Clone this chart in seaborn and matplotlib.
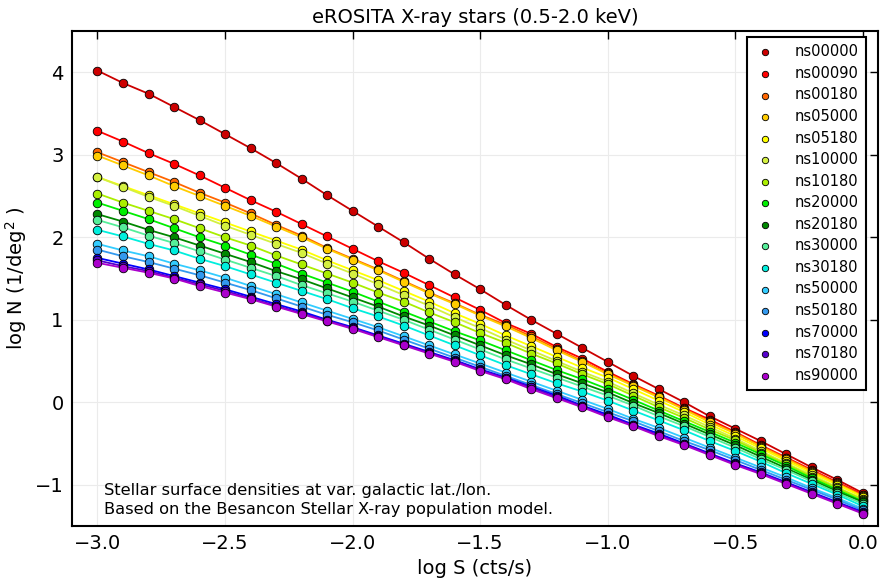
import numpy as np
import pandas as pd
import matplotlib
matplotlib.use("Agg")
import matplotlib.pyplot as plt
import seaborn as sns

# log S grid (cts/s)
log_s = [round(-3.0 + 0.1 * i, 1) for i in range(31)]

names = ["ns00000", "ns00090", "ns00180", "ns05000", "ns05180", "ns10000",
         "ns10180", "ns20000", "ns20180", "ns30000", "ns30180", "ns50000",
         "ns50180", "ns70000", "ns70180", "ns90000"]

colors = ["#cc0000", "#ff0000", "#ff6600", "#ffcc00", "#ffff00", "#d4f040",
          "#aaee00", "#00ee00", "#008800", "#55ee99", "#00eedd", "#33ccff",
          "#3399ee", "#0000ff", "#5500cc", "#aa00cc"]

# log N (1/deg^2)
ns00000 = [4.02, 3.87, 3.74, 3.58, 3.42, 3.25, 3.08, 2.90, 2.71, 2.51, 2.32, 2.13, 1.94, 1.74, 1.55, 1.37,
           1.18, 1.00, 0.83, 0.66, 0.49, 0.32, 0.16, 0.00, -0.17, -0.32, -0.47, -0.63, -0.79, -0.94, -1.10]
ns00090 = [3.29, 3.16, 3.02, 2.89, 2.75, 2.60, 2.45, 2.31, 2.16, 2.01, 1.86, 1.71, 1.57, 1.42, 1.27, 1.12,
           0.96, 0.83, 0.67, 0.53, 0.37, 0.22, 0.08, -0.07, -0.21, -0.36, -0.52, -0.67, -0.82, -0.97, -1.12]
ns00180 = [3.03, 2.91, 2.79, 2.67, 2.54, 2.42, 2.29, 2.15, 2.02, 1.87, 1.74, 1.61, 1.47, 1.33, 1.20, 1.06,
           0.94, 0.80, 0.65, 0.50, 0.35, 0.21, 0.07, -0.08, -0.23, -0.37, -0.53, -0.68, -0.83, -0.98, -1.13]
ns05000 = [2.99, 2.87, 2.75, 2.62, 2.50, 2.38, 2.26, 2.13, 2.00, 1.86, 1.73, 1.60, 1.46, 1.32, 1.19, 1.05,
           0.92, 0.78, 0.63, 0.49, 0.34, 0.20, 0.06, -0.09, -0.24, -0.38, -0.54, -0.69, -0.84, -0.99, -1.14]
ns05180 = [2.73, 2.62, 2.51, 2.40, 2.29, 2.18, 2.07, 1.96, 1.85, 1.72, 1.60, 1.48, 1.35, 1.22, 1.08, 0.95,
           0.81, 0.68, 0.55, 0.42, 0.30, 0.16, 0.02, -0.12, -0.27, -0.41, -0.56, -0.71, -0.86, -1.00, -1.15]
ns10000 = [2.73, 2.61, 2.49, 2.38, 2.26, 2.14, 2.03, 1.92, 1.81, 1.68, 1.56, 1.43, 1.30, 1.17, 1.03, 0.90,
           0.76, 0.63, 0.50, 0.37, 0.25, 0.11, -0.03, -0.16, -0.30, -0.44, -0.59, -0.74, -0.88, -1.03, -1.17]
ns10180 = [2.53, 2.42, 2.32, 2.22, 2.11, 2.00, 1.90, 1.78, 1.67, 1.56, 1.45, 1.33, 1.22, 1.09, 0.97, 0.84,
           0.72, 0.59, 0.47, 0.34, 0.22, 0.08, -0.06, -0.19, -0.33, -0.46, -0.61, -0.75, -0.90, -1.04, -1.18]
ns20000 = [2.42, 2.32, 2.22, 2.11, 2.00, 1.90, 1.79, 1.68, 1.56, 1.45, 1.34, 1.22, 1.10, 0.98, 0.86, 0.75,
           0.63, 0.51, 0.39, 0.28, 0.16, 0.03, -0.10, -0.23, -0.36, -0.49, -0.63, -0.77, -0.92, -1.06, -1.20]
ns20180 = [2.28, 2.19, 2.09, 2.00, 1.90, 1.80, 1.70, 1.59, 1.49, 1.38, 1.27, 1.16, 1.04, 0.93, 0.81, 0.69,
           0.57, 0.46, 0.34, 0.23, 0.12, -0.01, -0.13, -0.26, -0.39, -0.52, -0.66, -0.80, -0.94, -1.08, -1.21]
ns30000 = [2.21, 2.12, 2.02, 1.93, 1.83, 1.73, 1.63, 1.53, 1.42, 1.32, 1.22, 1.11, 1.00, 0.88, 0.76, 0.64,
           0.52, 0.41, 0.30, 0.19, 0.08, -0.04, -0.17, -0.29, -0.42, -0.55, -0.69, -0.82, -0.96, -1.10, -1.23]
ns30180 = [2.09, 2.01, 1.92, 1.84, 1.74, 1.65, 1.55, 1.45, 1.35, 1.25, 1.14, 1.04, 0.93, 0.81, 0.69, 0.57,
           0.45, 0.34, 0.23, 0.13, 0.02, -0.10, -0.22, -0.34, -0.47, -0.59, -0.72, -0.86, -0.99, -1.12, -1.26]
ns50000 = [1.92, 1.84, 1.77, 1.68, 1.60, 1.51, 1.41, 1.31, 1.21, 1.11, 1.01, 0.91, 0.80, 0.69, 0.58, 0.47,
           0.36, 0.25, 0.14, 0.03, -0.08, -0.20, -0.31, -0.43, -0.55, -0.67, -0.79, -0.91, -1.04, -1.16, -1.29]
ns50180 = [1.85, 1.77, 1.70, 1.62, 1.54, 1.45, 1.36, 1.26, 1.16, 1.06, 0.97, 0.87, 0.76, 0.65, 0.54, 0.43,
           0.32, 0.21, 0.10, -0.01, -0.12, -0.23, -0.35, -0.47, -0.58, -0.70, -0.82, -0.94, -1.06, -1.18, -1.31]
ns70000 = [1.75, 1.68, 1.61, 1.53, 1.45, 1.37, 1.28, 1.19, 1.10, 1.00, 0.91, 0.81, 0.71, 0.61, 0.51, 0.40,
           0.30, 0.19, 0.08, -0.04, -0.15, -0.27, -0.38, -0.50, -0.62, -0.74, -0.85, -0.97, -1.09, -1.21, -1.33]
ns70180 = [1.72, 1.65, 1.59, 1.51, 1.43, 1.35, 1.26, 1.17, 1.08, 0.99, 0.90, 0.80, 0.70, 0.60, 0.50, 0.39,
           0.29, 0.18, 0.06, -0.05, -0.17, -0.28, -0.40, -0.51, -0.63, -0.75, -0.86, -0.98, -1.10, -1.22, -1.34]
ns90000 = [1.69, 1.63, 1.57, 1.50, 1.41, 1.33, 1.25, 1.16, 1.07, 0.98, 0.89, 0.79, 0.69, 0.59, 0.49, 0.38,
           0.28, 0.16, 0.05, -0.06, -0.18, -0.29, -0.41, -0.52, -0.64, -0.76, -0.87, -0.99, -1.11, -1.23, -1.35]

series = [ns00000, ns00090, ns00180, ns05000, ns05180, ns10000, ns10180, ns20000,
          ns20180, ns30000, ns30180, ns50000, ns50180, ns70000, ns70180, ns90000]

sns.set_style("white")
plt.rcParams['font.family'] = ['DejaVu Sans']
plt.rcParams['text.color'] = 'black'
plt.rcParams['axes.labelcolor'] = 'black'
plt.rcParams['xtick.color'] = 'black'
plt.rcParams['ytick.color'] = 'black'
plt.rcParams['xtick.direction'] = 'in'
plt.rcParams['ytick.direction'] = 'in'
plt.rcParams['xtick.top'] = True
plt.rcParams['ytick.right'] = True

fig = plt.figure(figsize=(8.81, 5.82), dpi=100)
ax = fig.add_axes([0.0817, 0.0962, 0.915, 0.8505])

for name, vals, col in zip(names, series, colors):
    df = pd.DataFrame({"logS": log_s, "logN": vals})
    sns.lineplot(data=df, x="logS", y="logN", color=col, lw=1.3, ax=ax, legend=False)
    sns.scatterplot(data=df, x="logS", y="logN", color=col, s=38, edgecolor='black',
                    linewidth=0.6, label=name, ax=ax, zorder=3)

ax.set_xlim(-3.1, 0.06)
ax.set_ylim(-1.5, 4.5)
ax.set_xticks([-3.0, -2.5, -2.0, -1.5, -1.0, -0.5, 0.0])
ax.set_yticks([-1, 0, 1, 2, 3, 4])
ax.grid(True, color='#ebebeb', lw=0.8)
ax.tick_params(axis='both', which='major', length=6, width=1, labelsize=14, pad=6)
for sp in ax.spines.values():
    sp.set_color('black')
    sp.set_linewidth(1.5)

ax.set_title("eROSITA X-ray stars (0.5-2.0 keV)", fontsize=14, pad=6)
ax.set_xlabel("log S (cts/s)", fontsize=14)
ax.set_ylabel(r"log N (1/deg$^2$ )", fontsize=14)

ax.text(0.04, 0.019, "Stellar surface densities at var. galactic lat./lon.\n"
        "Based on the Besancon Stellar X-ray population model.",
        transform=ax.transAxes, fontsize=11.7, ha='left', va='bottom', linespacing=1.3)

leg = ax.legend(loc='upper right', bbox_to_anchor=(0.985, 0.988), borderaxespad=0,
                fontsize=10.5, frameon=True, fancybox=False, handlelength=1.4,
                handletextpad=1.35, labelspacing=0.45, markerscale=0.75, borderpad=0.5)
leg.get_frame().set_edgecolor('black')
leg.get_frame().set_linewidth(1.5)
leg.get_frame().set_alpha(1)

plt.savefig("out.png", dpi=100)
